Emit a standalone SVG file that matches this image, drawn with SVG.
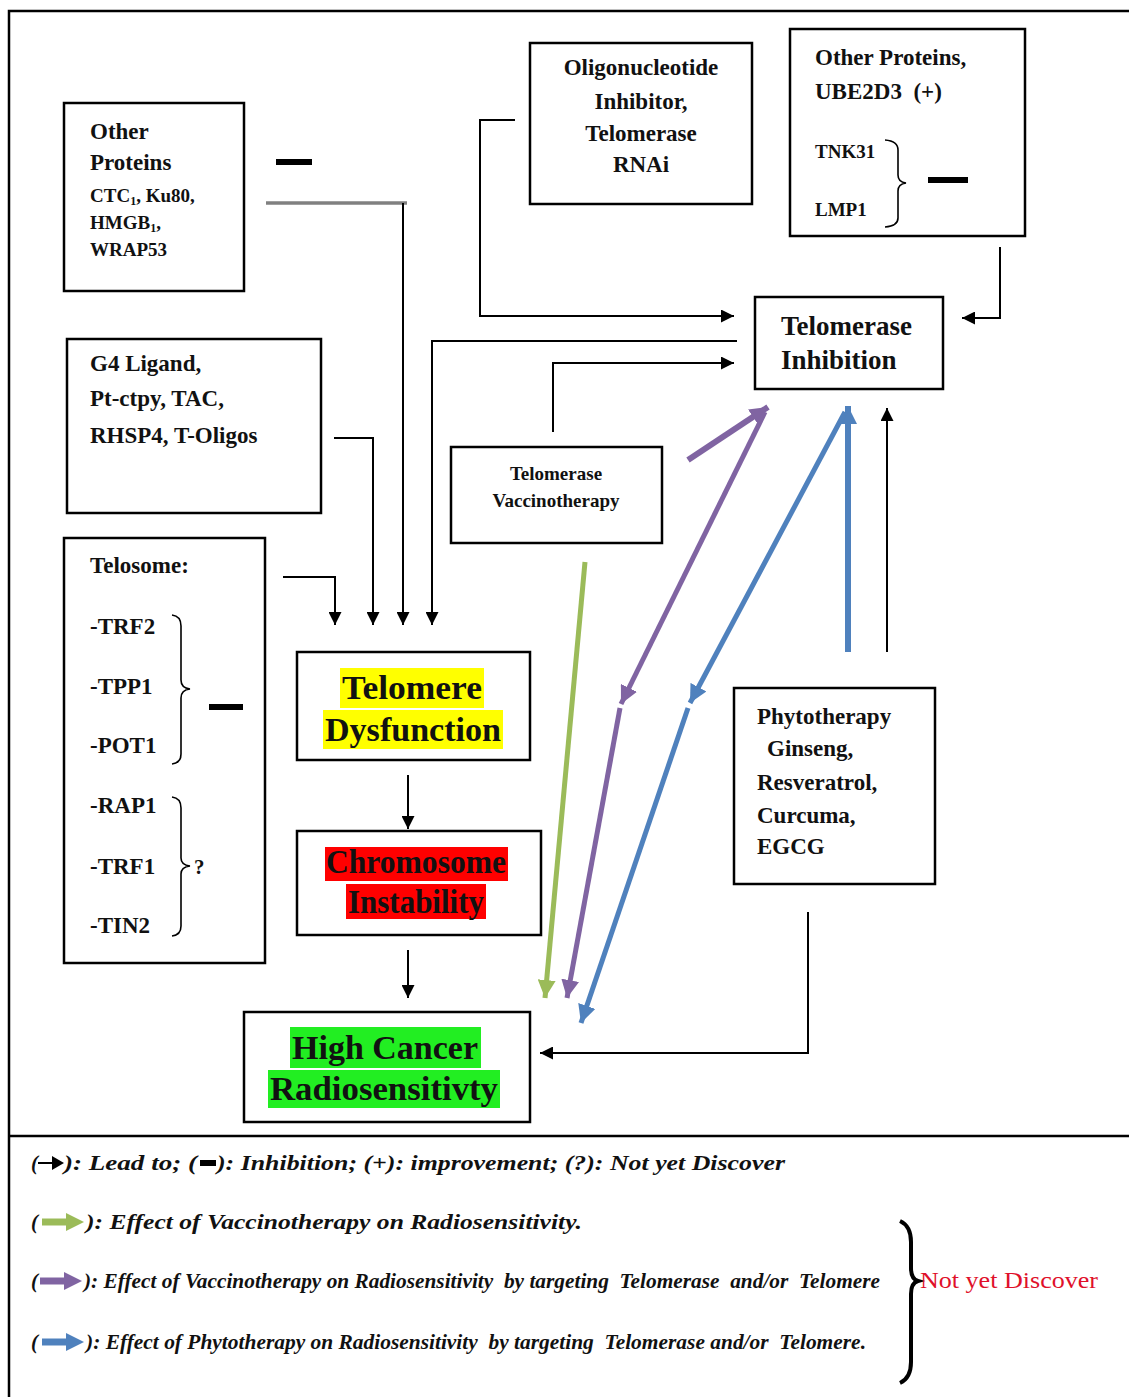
<svg xmlns="http://www.w3.org/2000/svg" width="1129" height="1397" viewBox="0 0 1129 1397">
<style>
.box{fill:#fff;stroke:#000;stroke-width:2.5}
.t{font-family:"Liberation Serif","Times New Roman",serif;font-weight:bold;fill:#111}
.s23{font-size:23px}
.s19{font-size:19px}
.big{font-size:33px}
.ti{font-size:27px}
.ln{fill:none;stroke:#000;stroke-width:2}
.lg{font-family:"Liberation Serif","Times New Roman",serif;font-style:italic;font-weight:bold;fill:#111;font-size:21px}
.br{fill:none;stroke:#000;stroke-width:1.6}
</style>
<defs>
<marker id="ah" viewBox="0 0 10 10" refX="10" refY="5" markerWidth="13" markerHeight="13" markerUnits="userSpaceOnUse" orient="auto"><path d="M0,0 L10,5 L0,10 z" fill="#000"/></marker>
<marker id="ag" viewBox="0 0 10 10" refX="10" refY="5" markerWidth="18" markerHeight="18" markerUnits="userSpaceOnUse" orient="auto"><path d="M0,0 L10,5 L0,10 z" fill="#9bbb59"/></marker>
<marker id="ap" viewBox="0 0 10 10" refX="10" refY="5" markerWidth="18" markerHeight="18" markerUnits="userSpaceOnUse" orient="auto"><path d="M0,0 L10,5 L0,10 z" fill="#8064a2"/></marker>
<marker id="ab" viewBox="0 0 10 10" refX="10" refY="5" markerWidth="18" markerHeight="18" markerUnits="userSpaceOnUse" orient="auto"><path d="M0,0 L10,5 L0,10 z" fill="#4f81bd"/></marker>
</defs>
<rect width="1129" height="1397" fill="#fff"/>
<g id="frame" fill="none" stroke="#000" stroke-width="2.5">
<path d="M1129,11 H9 V1397"/>
<path d="M9,1136 H1129"/>
</g>

<g id="connectors">
<path d="M266,203 H407" stroke="#808080" stroke-width="3.5" fill="none"/>
<path class="ln" d="M403,203 V625" marker-end="url(#ah)"/>
<path class="ln" d="M334,438 H373 V625" marker-end="url(#ah)"/>
<path class="ln" d="M283,577 H335 V625" marker-end="url(#ah)"/>
<path class="ln" d="M737,341 H432 V625" marker-end="url(#ah)"/>
<path class="ln" d="M515,120 H480 V316 H734" marker-end="url(#ah)"/>
<path class="ln" d="M1000,247 V318 H962" marker-end="url(#ah)"/>
<path class="ln" d="M553,432 V363 H734" marker-end="url(#ah)"/>
<path class="ln" d="M887,652 V408" marker-end="url(#ah)"/>
<path class="ln" d="M408,775 V829" marker-end="url(#ah)"/>
<path class="ln" d="M408,950 V998" marker-end="url(#ah)"/>
<path class="ln" d="M808,912 V1053 H540" marker-end="url(#ah)"/>
<path d="M585,562 L545,998" stroke="#9bbb59" stroke-width="5" fill="none" marker-end="url(#ag)"/>
<path d="M688,460 L768,407" stroke="#8064a2" stroke-width="6" fill="none" marker-end="url(#ap)"/>
<path d="M765,412 L621,704" stroke="#8064a2" stroke-width="5" fill="none" marker-end="url(#ap)"/>
<path d="M620,708 L567,998" stroke="#8064a2" stroke-width="5" fill="none" marker-end="url(#ap)"/>
<path d="M848,652 V406" stroke="#4f81bd" stroke-width="6" fill="none" marker-end="url(#ab)"/>
<path d="M845,412 L690,703" stroke="#4f81bd" stroke-width="5" fill="none" marker-end="url(#ab)"/>
<path d="M688,708 L581,1023" stroke="#4f81bd" stroke-width="5" fill="none" marker-end="url(#ab)"/>
</g>

<g id="n-other-left">
<rect class="box" x="64" y="103" width="180" height="188"/>
<text class="t s23" x="90" y="139">Other</text>
<text class="t s23" x="90" y="170">Proteins</text>
<text class="t s19" x="90" y="202">CTC<tspan font-size="12" dy="3">1</tspan><tspan dy="-3">, Ku80,</tspan></text>
<text class="t s19" x="90" y="229">HMGB<tspan font-size="12" dy="3">1</tspan><tspan dy="-3">,</tspan></text>
<text class="t s19" x="90" y="256">WRAP53</text>
<rect x="276" y="159" width="36" height="6" fill="#000"/>
</g>

<g id="n-oligo">
<rect class="box" x="530" y="43" width="222" height="161"/>
<text class="t s23" x="641" y="75" text-anchor="middle">Oligonucleotide</text>
<text class="t s23" x="641" y="109" text-anchor="middle">Inhibitor,</text>
<text class="t s23" x="641" y="141" text-anchor="middle">Telomerase</text>
<text class="t s23" x="641" y="172" text-anchor="middle">RNAi</text>
</g>

<g id="n-other-right">
<rect class="box" x="790" y="29" width="235" height="207"/>
<text class="t s23" x="815" y="65">Other Proteins,</text>
<text class="t s23" x="815" y="99" xml:space="preserve">UBE2D3  (+)</text>
<text class="t s19" x="815" y="158">TNK31</text>
<text class="t s19" x="815" y="216">LMP1</text>
<path class="br" d="M885,140 Q898,141 898,150 V175 Q898,182 906,183 Q898,184 898,191 V218 Q898,226 885,227"/>
<rect x="928" y="177" width="40" height="6" fill="#000"/>
</g>

<g id="n-telomerase-inhibition">
<rect class="box" x="755" y="297" width="188" height="92"/>
<text class="t ti" x="781" y="335">Telomerase</text>
<text class="t ti" x="781" y="369">Inhibition</text>
</g>

<g id="n-g4">
<rect class="box" x="67" y="339" width="254" height="174"/>
<text class="t s23" x="90" y="371">G4 Ligand,</text>
<text class="t s23" x="90" y="406">Pt-ctpy, TAC,</text>
<text class="t s23" x="90" y="443">RHSP4, T-Oligos</text>
</g>

<g id="n-vaccino">
<rect class="box" x="451" y="447" width="211" height="96"/>
<text class="t s19" x="556" y="480" text-anchor="middle">Telomerase</text>
<text class="t s19" x="556" y="507" text-anchor="middle">Vaccinotherapy</text>
</g>

<g id="n-telosome">
<rect class="box" x="64" y="538" width="201" height="425"/>
<text class="t s23" x="90" y="573">Telosome:</text>
<text class="t s23" x="90" y="634">-TRF2</text>
<text class="t s23" x="90" y="694">-TPP1</text>
<text class="t s23" x="90" y="753">-POT1</text>
<text class="t s23" x="90" y="813">-RAP1</text>
<text class="t s23" x="90" y="874">-TRF1</text>
<text class="t s23" x="90" y="933">-TIN2</text>
<path class="br" d="M172,615 Q181,616 181,626 V680 Q181,688 190,689 Q181,690 181,698 V754 Q181,763 172,764"/>
<rect x="209" y="704" width="34" height="6" fill="#000"/>
<path class="br" d="M172,797 Q181,798 181,808 V858 Q181,865 190,866 Q181,867 181,874 V926 Q181,935 172,936"/>
<text class="t" x="194" y="874" font-size="21" font-weight="normal">?</text>
</g>

<g id="n-telomere-dysfunction">
<rect class="box" x="297" y="652" width="233" height="108"/>
<rect x="340" y="668" width="144" height="40" fill="#ffff00"/>
<rect x="323" y="710" width="180" height="39" fill="#ffff00"/>
<text class="t big" x="412" y="699" text-anchor="middle" textLength="140" lengthAdjust="spacingAndGlyphs">Telomere</text>
<text class="t big" x="413" y="741" text-anchor="middle" textLength="176" lengthAdjust="spacingAndGlyphs">Dysfunction</text>
</g>

<g id="n-chromosome">
<rect class="box" x="297" y="831" width="244" height="104"/>
<rect x="325" y="847" width="183" height="34" fill="#ff0000"/>
<rect x="346" y="884" width="140" height="35" fill="#ff0000"/>
<text class="t big" x="416" y="873" text-anchor="middle" textLength="180" lengthAdjust="spacingAndGlyphs" fill="#3a0000">Chromosome</text>
<text class="t big" x="416" y="913" text-anchor="middle" textLength="136" lengthAdjust="spacingAndGlyphs" fill="#3a0000">Instability</text>
</g>

<g id="n-high-cancer">
<rect class="box" x="244" y="1012" width="286" height="110"/>
<rect x="290" y="1027" width="191" height="41" fill="#22ee22"/>
<rect x="268" y="1070" width="232" height="38" fill="#22ee22"/>
<text class="t big" x="385" y="1059" text-anchor="middle" textLength="186" lengthAdjust="spacingAndGlyphs">High Cancer</text>
<text class="t big" x="384" y="1100" text-anchor="middle" textLength="228" lengthAdjust="spacingAndGlyphs">Radiosensitivty</text>
</g>

<g id="n-phyto">
<rect class="box" x="734" y="688" width="201" height="196"/>
<text class="t s23" x="757" y="724">Phytotherapy</text>
<text class="t s23" x="767" y="756">Ginseng,</text>
<text class="t s23" x="757" y="790">Resveratrol,</text>
<text class="t s23" x="757" y="823">Curcuma,</text>
<text class="t s23" x="757" y="854">EGCG</text>
</g>

<g id="legend">
<text class="lg" x="31" y="1170">(</text>
<path d="M38,1163 H52" stroke="#000" stroke-width="2"/>
<path d="M52,1156 L64,1163 L52,1170 z" fill="#000"/>
<text class="lg" x="64" y="1170" textLength="133" lengthAdjust="spacingAndGlyphs">): Lead to; (</text>
<rect x="200" y="1160" width="16" height="6" fill="#000"/>
<text class="lg" x="217" y="1170" textLength="568" lengthAdjust="spacingAndGlyphs">): Inhibition; (+): improvement; (?): Not yet Discover</text>

<text class="lg" x="31" y="1229">(</text>
<path d="M42,1222 H68" stroke="#9bbb59" stroke-width="7"/>
<path d="M66,1213 L84,1222 L66,1231 z" fill="#9bbb59"/>
<text class="lg" x="86" y="1229" textLength="496" lengthAdjust="spacingAndGlyphs">): Effect of Vaccinotherapy on Radiosensitivity.</text>

<text class="lg" x="31" y="1288">(</text>
<path d="M40,1281 H66" stroke="#8064a2" stroke-width="7"/>
<path d="M64,1272 L82,1281 L64,1290 z" fill="#8064a2"/>
<text class="lg" x="84" y="1288" font-size="18" textLength="796" lengthAdjust="spacingAndGlyphs" xml:space="preserve">): Effect of Vaccinotherapy on Radiosensitivity  by targeting  Telomerase  and/or  Telomere</text>

<text class="lg" x="31" y="1349">(</text>
<path d="M42,1342 H68" stroke="#4f81bd" stroke-width="7"/>
<path d="M66,1333 L84,1342 L66,1351 z" fill="#4f81bd"/>
<text class="lg" x="86" y="1349" font-size="18" textLength="780" lengthAdjust="spacingAndGlyphs" xml:space="preserve">): Effect of Phytotherapy on Radiosensitivity  by targeting  Telomerase and/or  Telomere.</text>

<path d="M900,1221 Q911,1226 911,1242 V1268 Q911,1279 918,1281 Q911,1283 911,1294 V1362 Q911,1378 900,1383" fill="none" stroke="#000" stroke-width="4"/>
<text x="920" y="1288" font-family="'Liberation Serif','Times New Roman',serif" font-size="23" fill="#e0102a" textLength="178" lengthAdjust="spacingAndGlyphs">Not yet Discover</text>
</g>
</svg>
